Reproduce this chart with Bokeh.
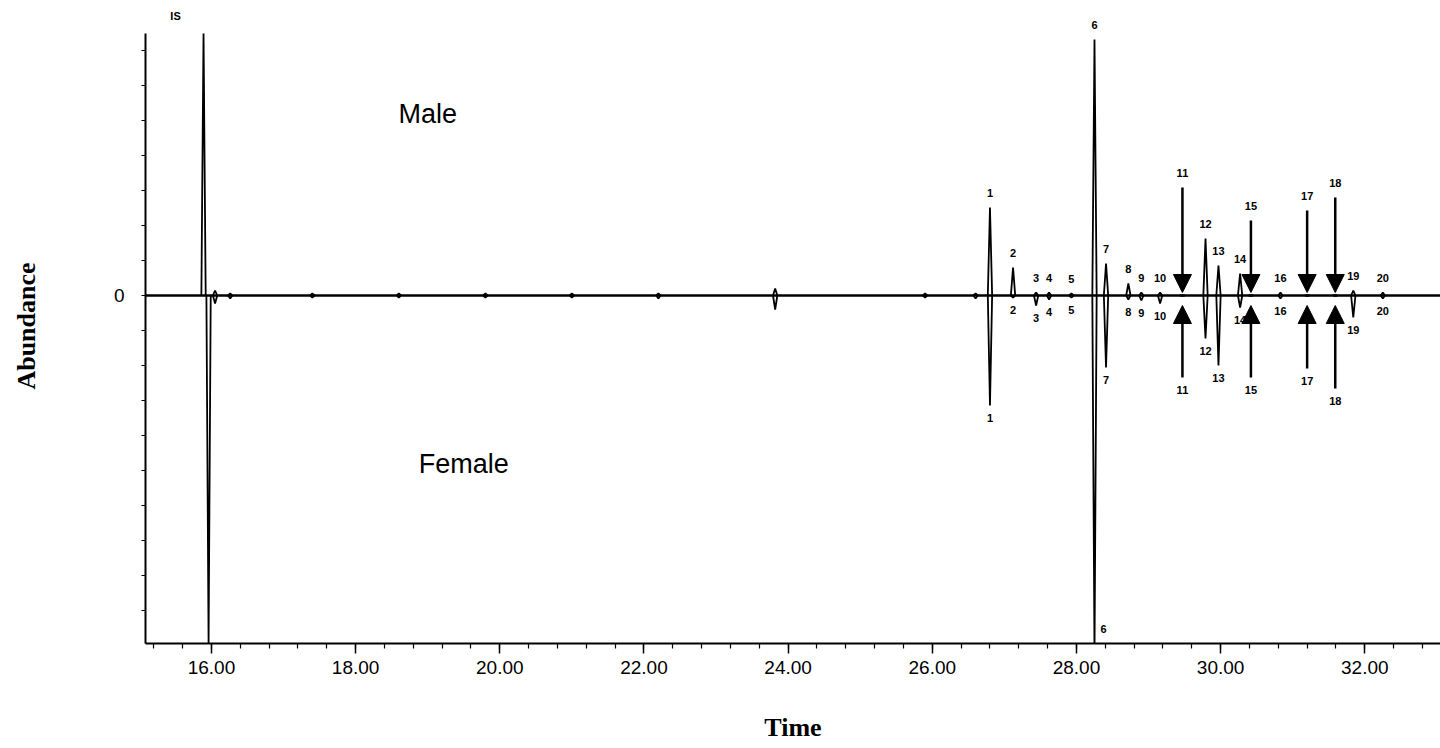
from bokeh.plotting import figure
from bokeh.models import (Range1d, FixedTicker, SingleIntervalTicker, PrintfTickFormatter,
                          Span, Arrow, NormalHead, ColumnDataSource, Label)
from bokeh.core.properties import value
from bokeh.embed import file_html
from bokeh.resources import INLINE

# ---------------- data (retention time in min, abundance in arbitrary units) -------------
is_time_male = 15.89
is_time_female = 15.96
is_male = 262
is_female = -348

peak_labels = ["1", "2", "3", "4", "5", "6", "7", "8", "9", "10",
               "11", "12", "13", "14", "15", "16", "17", "18", "19", "20"]
peak_time = [26.80, 27.12, 27.44, 27.62, 27.93, 28.25, 28.41, 28.72, 28.90, 29.16,
             29.47, 29.79, 29.97, 30.27, 30.42, 30.83, 31.20, 31.59, 31.84, 32.25]
male_height = [88, 28, 3, 3, 2, 256, 32, 12, 3, 3,
               0, 57, 30, 22, 0, 3, 0, 0, 5, 3]
female_height = [-110, -2, -10, -4, -2, -360, -72, -4, -5, -8,
                 0, -43, -70, -12, 0, -3, 0, 0, -22, -3]

# minor baseline features (unlabelled)
minor_time = [16.05, 16.26, 17.40, 18.60, 19.80, 21.00, 22.20, 23.82, 25.90, 26.60]
minor_male = [5, 2, 2, 2, 2, 2, 2, 7, 2, 2]
minor_female = [-8, -3, -2, -2, -2, -2, -3, -14, -2, -3]

# arrows marking the compounds absent from one sex
arrow_labels = ["11", "15", "17", "18"]
arrow_male_start = [108, 75, 85, 98]
arrow_male_end = [3, 3, 3, 3]
arrow_female_start = [-82, -82, -73, -93]
arrow_female_end = [-10, -10, -10, -10]

x_lo, x_hi = 15.085, 33.05
y_lo, y_hi, y_axis_top = -348, 287, 262

# ---------------- figure -------------
p = figure(width=1440, height=748, output_backend="svg", toolbar_location=None,
           x_range=Range1d(x_lo, x_hi), y_range=Range1d(y_lo, y_hi),
           min_border_left=145, min_border_right=0, min_border_top=8, min_border_bottom=105)
p.grid.visible = False
p.outline_line_color = None
p.background_fill_color = "white"

# x axis
xa = p.xaxis[0]
xa.ticker = SingleIntervalTicker(interval=2, num_minor_ticks=5)
xa.formatter = PrintfTickFormatter(format="%.2f")
xa.axis_line_width = 2
xa.major_tick_line_width = 1.5
xa.major_tick_out = 10
xa.major_tick_in = 0
xa.minor_tick_out = 5
xa.minor_tick_in = 0
xa.minor_tick_line_width = 1.2
xa.major_label_text_font = "Liberation Sans"
xa.major_label_text_font_size = "19px"
xa.major_label_text_color = "black"
xa.major_label_standoff = 7
xa.axis_label = "Time"
xa.axis_label_text_font = "Liberation Serif"
xa.axis_label_text_font_style = "bold"
xa.axis_label_text_font_size = "26px"
xa.axis_label_text_color = "black"
xa.axis_label_standoff = 36

# y axis
ya = p.yaxis[0]
ya.ticker = FixedTicker(ticks=[0], minor_ticks=[k * 35 for k in range(-9, 8) if k != 0])
ya.bounds = (y_lo, y_axis_top)
ya.axis_line_width = 2
ya.major_tick_out = 4
ya.major_tick_in = 0
ya.minor_tick_out = 4
ya.minor_tick_in = 0
ya.minor_tick_line_width = 1.2
ya.major_label_text_font = "Liberation Sans"
ya.major_label_text_font_size = "19px"
ya.major_label_text_color = "black"
ya.major_label_standoff = 17
ya.axis_label = "Abundance"
ya.axis_label_text_font = "Liberation Serif"
ya.axis_label_text_font_style = "bold"
ya.axis_label_text_font_size = "26px"
ya.axis_label_text_color = "black"
ya.axis_label_text_align = "left"
ya.axis_label_standoff = 70

# baseline
p.add_layout(Span(location=0, dimension="width", line_color="black", line_width=2.5))

w = 0.03  # half-width of a peak in minutes


def tri(ts, hs):
    return [[t - w, t, t + w] for t in ts], [[0, h, 0] for h in hs]


for ts, hs in [([is_time_male], [is_male]), ([is_time_female], [is_female]),
               (peak_time, male_height), (peak_time, female_height),
               (minor_time, minor_male), (minor_time, minor_female)]:
    xs, ys = tri(ts, hs)
    p.multi_line(xs, ys, line_color="black", line_width=1.8)

# arrows
arrow_time = [peak_time[peak_labels.index(l)] for l in arrow_labels]
for starts, ends in [(arrow_male_start, arrow_male_end), (arrow_female_start, arrow_female_end)]:
    src = ColumnDataSource(dict(x=arrow_time, ys=starts, ye=ends))
    p.add_layout(Arrow(end=NormalHead(size=18, fill_color="black", line_color="black"),
                       x_start="x", y_start="ys", x_end="x", y_end="ye",
                       line_color="black", line_width=2.5, source=src))

# peak labels
m_top = []
f_bot = []
for i, l in enumerate(peak_labels):
    mt = max(male_height[i], 0)
    fb = min(female_height[i], 0)
    if l in arrow_labels:
        j = arrow_labels.index(l)
        mt = max(mt, arrow_male_start[j])
        fb = min(fb, arrow_female_start[j])
    m_top.append(mt)
    f_bot.append(fb)

lab_font = value("Liberation Sans")
p.text(peak_time, m_top, text=peak_labels, y_offset=-15, text_align="center",
       text_baseline="middle", text_font=lab_font, text_font_size="11px",
       text_font_style="bold", text_color="black")

f_in = [i for i in range(len(peak_labels)) if f_bot[i] >= y_lo]
f_out = [i for i in range(len(peak_labels)) if f_bot[i] < y_lo]
p.text([peak_time[i] for i in f_in], [f_bot[i] for i in f_in],
       text=[peak_labels[i] for i in f_in], y_offset=12, text_align="center",
       text_baseline="middle", text_font=lab_font, text_font_size="11px",
       text_font_style="bold", text_color="black")
p.text([peak_time[i] for i in f_out], [y_lo for i in f_out],
       text=[peak_labels[i] for i in f_out], x_offset=9, y_offset=-15, text_align="center",
       text_baseline="middle", text_font=lab_font, text_font_size="11px",
       text_font_style="bold", text_color="black")

p.text([is_time_male], [is_male], text=["IS"], x_offset=-28, y_offset=-18,
       text_align="center", text_baseline="middle", text_font=lab_font,
       text_font_size="11px", text_font_style="bold", text_color="black")

# group labels
p.add_layout(Label(x=19.0, y=182, text="Male", text_align="center", text_baseline="middle",
                   text_font="Liberation Sans", text_font_size="27px", text_color="black"))
p.add_layout(Label(x=19.5, y=-168, text="Female", text_align="center", text_baseline="middle",
                   text_font="Liberation Sans", text_font_size="27px", text_color="black"))

open("out.html", "w").write(file_html(p, INLINE))
